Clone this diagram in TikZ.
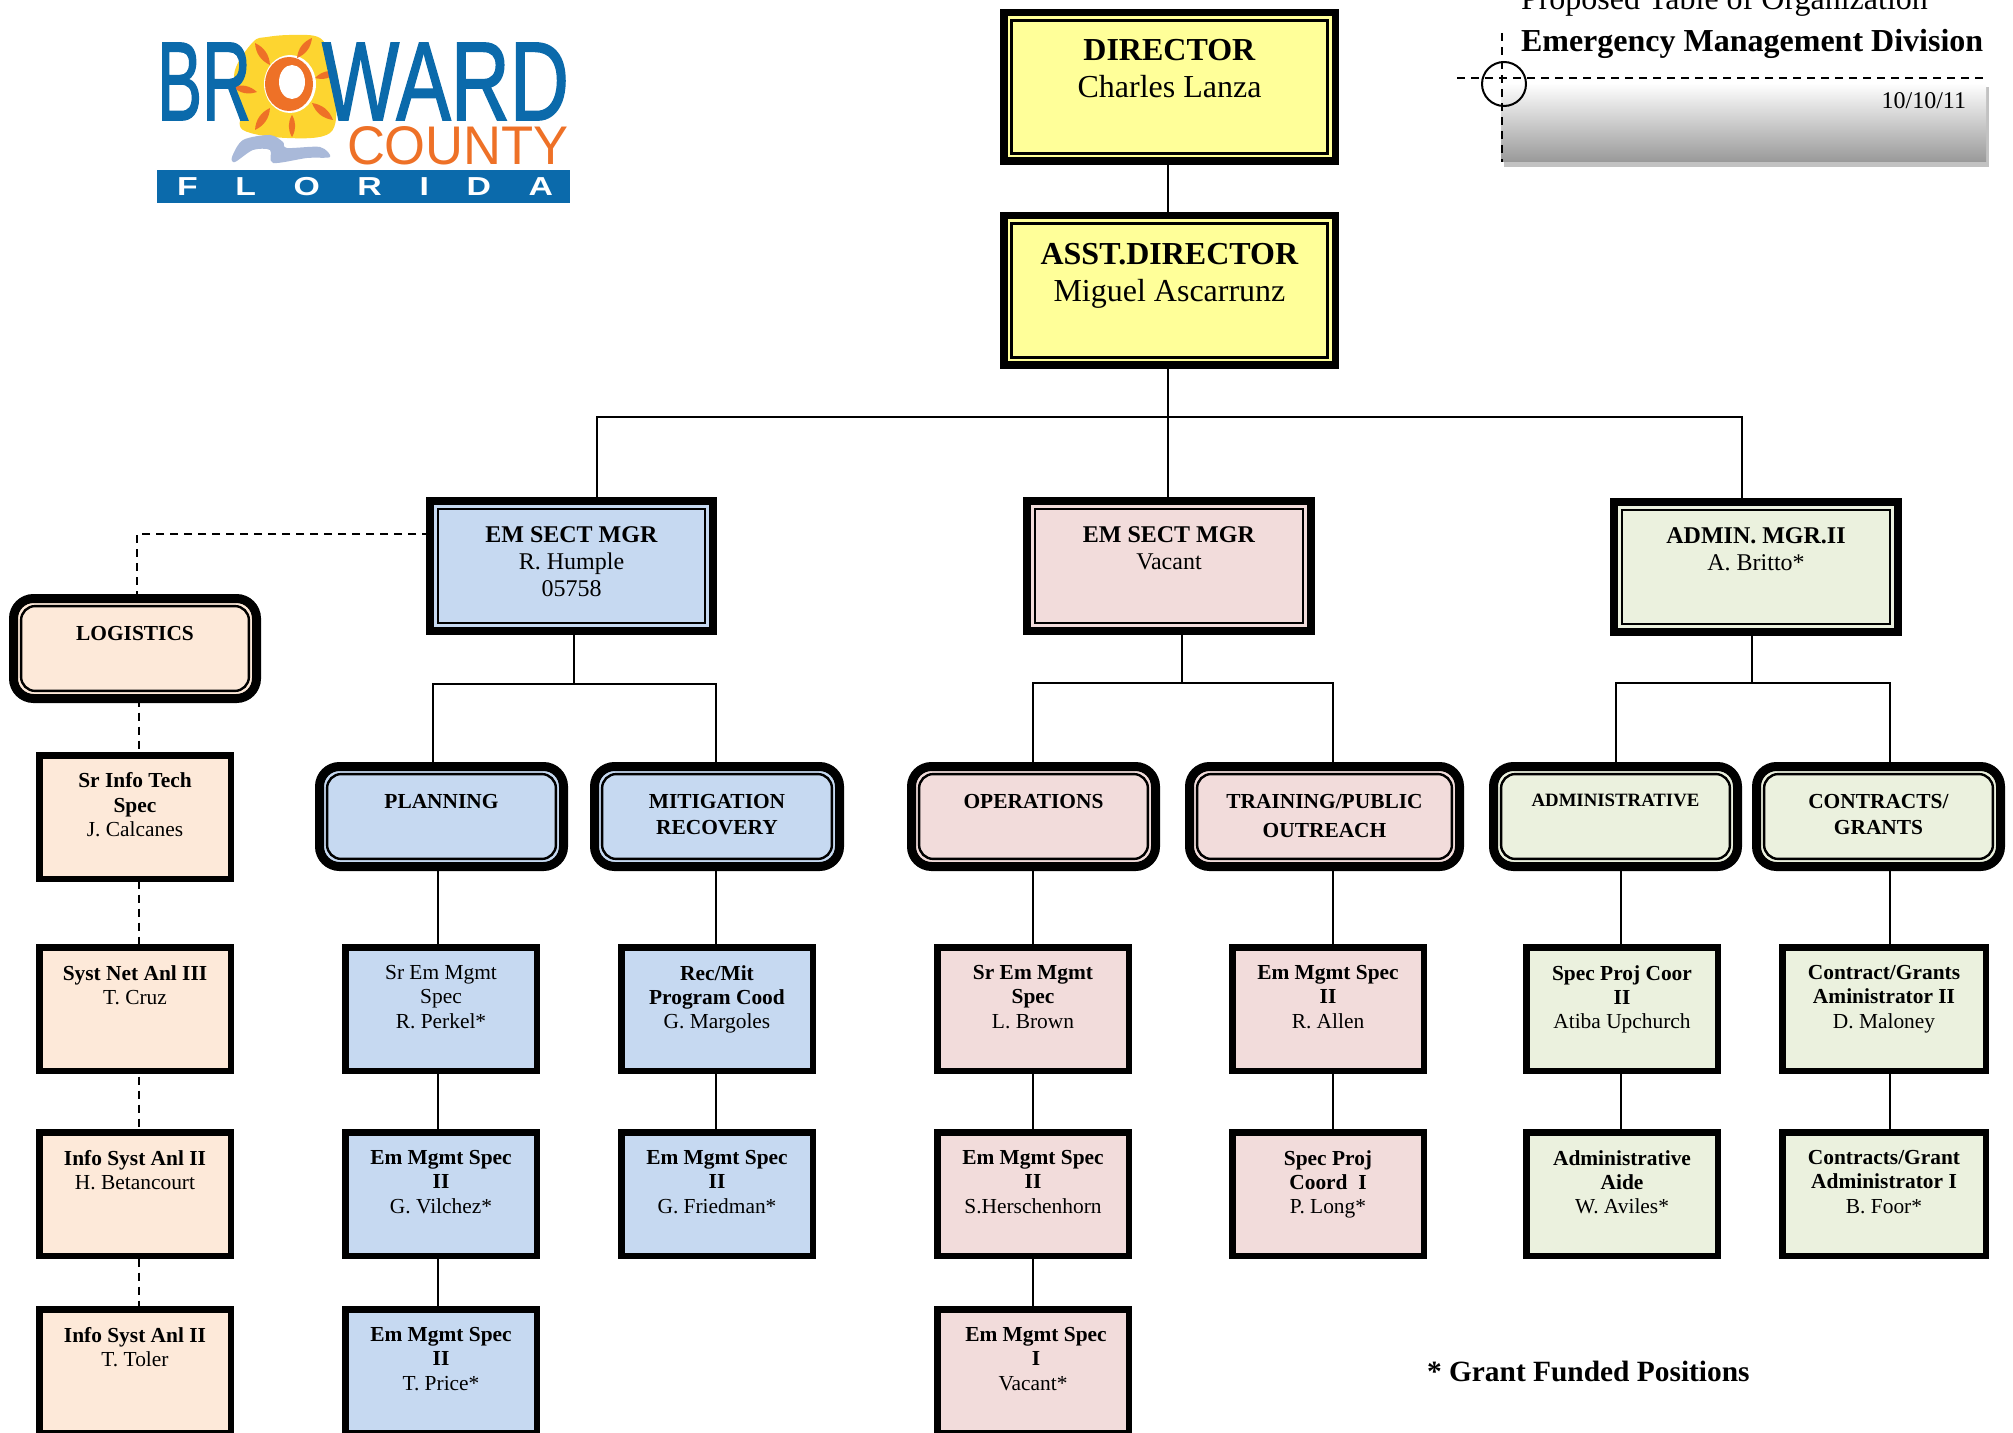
\documentclass[tikz,border=0pt]{standalone}
\usepackage{fontspec}
\setmainfont{Liberation Serif}
\newfontfamily\logofont{Liberation Sans}
\newfontfamily\logomid[FakeBold=1.6]{Liberation Sans}
\usetikzlibrary{backgrounds,calc,shadings}
\definecolor{cyel}{HTML}{FFFF99}
\definecolor{cblu}{HTML}{C6D9F1}
\definecolor{cpnk}{HTML}{F2DCDB}
\definecolor{cgrn}{HTML}{EBF1DE}
\definecolor{cpch}{HTML}{FDE9D9}
\definecolor{lgblue}{HTML}{0B6AAB}
\definecolor{lgorange}{HTML}{EE7127}
\definecolor{lgyellow}{HTML}{FDD530}
\definecolor{lgwave}{HTML}{A9B9D9}
\tikzset{
  x=0.5pt,y=-0.5pt,
  framed/.style={draw=black,inner sep=0pt,outer sep=0pt,rectangle},
  bigbox/.style={framed,line width=3.75pt},
  sectbox/.style={framed,line width=4pt},
  groupbox/.style={framed,line width=4.5pt,rounded corners=10pt},
  staffbox/.style={framed,line width=3.25pt},
  innerline/.style={draw=black,line width=1.2pt},
  link/.style={draw=black,line width=1pt},
  dashlink/.style={draw=black,line width=1pt,dash pattern=on 4pt off 3pt},
  freetext/.style={inner sep=0pt,outer sep=0pt},
}
\newcommand{\ftA}{\fontsize{16}{18.5}\selectfont}
\newcommand{\ftB}{\fontsize{12}{13.5}\selectfont}
\newcommand{\ftC}{\fontsize{10.7}{12.2}\selectfont}
\newcommand{\ftG}{\fontsize{10.7}{12.7}\selectfont}
\newcommand{\ftD}{\fontsize{9.4}{12.2}\selectfont}
% style, name, x0,y0,x1,y1 (outer, px), border px, top pad px, text
\newcommand{\orgnode}[9]{%
  \pgfmathsetmacro\nW{(#5-#3-#7)*0.5}%
  \pgfmathsetmacro\nH{(#6-#4-#7)*0.5}%
  \pgfmathsetmacro\nP{#8*0.5}%
  \node[#1,minimum width=\nW pt,minimum height=\nH pt] (#2) at ({(#3+#5)/2},{(#4+#6)/2})
    {\parbox[c][\nH pt][t]{\nW pt}{\vspace*{\nP pt}\centering #9\par}};%
}
\newcommand{\innerrect}[3]{%
  \draw[innerline,#3] ([xshift=#2,yshift=#2]#1.south west) rectangle ([xshift=-#2,yshift=-#2]#1.north east);%
}
\begin{document}
\begin{tikzpicture}
\useasboundingbox (0,0) rectangle (2013,1433);

% ---------- logo ----------
\fill[lgyellow] plot[smooth cycle,tension=0.6] coordinates {(253,42)(267,37)(293,35)(320,38)(333,60)(338,77)(337,100)(330,133)(287,138)(243,130)(242,110)(237,97)(235,70)};
\fill[lgwave] plot[smooth cycle,tension=0.5] coordinates {(232,157)(243,140)(270,135)(283,142)(287,148)(320,147)(330,157)(307,158)(273,163)(270,150)(253,150)(235,162)};
\fill[white] (290,84) ellipse (26 and 29);
\fill[lgorange] (289,84) ellipse (24 and 27);
\fill[white] (292,82) ellipse (13 and 17);
\foreach \ax/\ay/\bx/\by in {255/43/270/65, 312/38/297/58, 315/78/337/72, 233/87/257/92, 270/108/255/130, 292/115/292/137, 312/103/333/120}{
  \fill[lgorange] (\ax,\ay) to[bend left=30] (\bx,\by) to[bend left=30] (\ax,\ay) -- cycle;
}
\node[freetext,text=lgblue,anchor=south west] (logoBR) at (157,120) {\resizebox{47pt}{38.5pt}{\logomid BR}};
\node[freetext,text=lgblue,anchor=south west] (logoWARD) at (322,120) {\resizebox{123.5pt}{38.5pt}{\logomid WARD}};
\node[freetext,text=lgorange,anchor=south west] (logoCOUNTY) at (347,165) {\resizebox{111pt}{19pt}{\logofont COUNTY}};
\fill[lgblue] (157,170) rectangle (570,203);
\node[freetext,text=white,anchor=center] (logoFL) at (365,187) {\makebox[188pt][s]{\logofont\bfseries\fontsize{13}{13}\selectfont \scalebox{1.3}[1]{F}\hfill\scalebox{1.3}[1]{L}\hfill\scalebox{1.3}[1]{O}\hfill\scalebox{1.3}[1]{R}\hfill\scalebox{1.3}[1]{I}\hfill\scalebox{1.3}[1]{D}\hfill\scalebox{1.3}[1]{A}}};

% ---------- title block ----------
\fill[black!24] (1504,87) rectangle (1989,167);
\node[freetext,rectangle,minimum width=242.5pt,minimum height=39.5pt,top color=white,bottom color=black!40,anchor=north west] (datebar) at (1501,83) {};
\node[freetext,anchor=base east,font=\fontsize{12}{13}\selectfont] (datetxt) at (1966,109) {10/10/11};
\node[freetext,anchor=base west,font=\fontsize{16}{18}\selectfont] (title1) at (1521,10) {Proposed Table of Organization};
\node[freetext,anchor=base west,font=\bfseries\fontsize{16}{18}\selectfont] (title2) at (1521,52) {Emergency Management Division};
\coordinate (gH1) at (1457,78);
\coordinate (gH2) at (1984,78);
\coordinate (gV1) at (1502,33);
\coordinate (gV2) at (1502,162);
\draw[dashlink] (gH1) -- (gH2);
\draw[dashlink] (gV1) -- (gV2);
\node[draw=black,line width=1pt,circle,minimum size=22pt,inner sep=0pt] (crosshair) at (1504,84) {};

% ---------- top boxes ----------
\orgnode{bigbox,fill=cyel}{dir}{1000}{9}{1339}{165}{7.5}{27}{\ftA\textbf{DIRECTOR}\\Charles Lanza}
\innerrect{dir}{3.8pt}{}
\orgnode{bigbox,fill=cyel}{asst}{1000}{212}{1339}{369}{7.5}{28}{\ftA\textbf{ASST.DIRECTOR}\\Miguel Ascarrunz}
\innerrect{asst}{3.8pt}{}

% ---------- section managers ----------
\orgnode{sectbox,fill=cblu}{sectA}{426}{497}{717}{635}{8}{26}{\ftB\textbf{EM SECT MGR}\\R. Humple\\05758}
\innerrect{sectA}{4pt}{}
\orgnode{sectbox,fill=cpnk}{sectB}{1023}{497}{1315}{635}{8}{26}{\ftB\textbf{EM SECT MGR}\\Vacant}
\innerrect{sectB}{4pt}{}
\orgnode{sectbox,fill=cgrn}{sectC}{1610}{498}{1902}{636}{8}{26}{\ftB\textbf{ADMIN. MGR.II}\\A. Britto*}
\innerrect{sectC}{4pt}{}

% ---------- groups ----------
\orgnode{groupbox,fill=cpch}{logi}{9}{594}{261}{703}{9}{28}{\ftG\textbf{LOGISTICS}}
\innerrect{logi}{3.8pt}{rounded corners=7pt}
\orgnode{groupbox,fill=cblu}{plan}{315}{762}{568}{871}{9}{28}{\ftG\textbf{PLANNING}}
\innerrect{plan}{3.8pt}{rounded corners=7pt}
\orgnode{groupbox,fill=cblu}{miti}{590}{762}{844}{871}{9}{28}{\ftG\textbf{MITIGATION}\\\textbf{RECOVERY}}
\innerrect{miti}{3.8pt}{rounded corners=7pt}
\orgnode{groupbox,fill=cpnk}{oper}{907}{762}{1160}{871}{9}{28}{\ftG\textbf{OPERATIONS}}
\innerrect{oper}{3.8pt}{rounded corners=7pt}
\orgnode{groupbox,fill=cpnk}{trai}{1185}{762}{1464}{871}{9}{28}{\ftG\textbf{TRAINING/PUBLIC}\\\rule{0pt}{13.5pt}\textbf{OUTREACH}}
\innerrect{trai}{3.8pt}{rounded corners=7pt}
\orgnode{groupbox,fill=cgrn}{admi}{1489}{762}{1742}{871}{9}{28}{\ftD\textbf{ADMINISTRATIVE}}
\innerrect{admi}{3.8pt}{rounded corners=7pt}
\orgnode{groupbox,fill=cgrn}{cont}{1752}{762}{2005}{871}{9}{28}{\ftG\textbf{CONTRACTS/}\\\textbf{GRANTS}}
\innerrect{cont}{3.8pt}{rounded corners=7pt}

% ---------- staff: logistics ----------
\orgnode{staffbox,fill=cpch}{lA}{36}{752}{234}{882}{6.5}{17.5}{\ftC\textbf{Sr Info Tech}\\\textbf{Spec}\\J. Calcanes}
\orgnode{staffbox,fill=cpch}{lB}{36}{944}{234}{1074}{6.5}{18}{\ftC\textbf{Syst Net Anl III}\\T. Cruz}
\orgnode{staffbox,fill=cpch}{lC}{36}{1129}{234}{1259}{6.5}{18}{\ftC\textbf{Info Syst Anl II}\\H. Betancourt}
\orgnode{staffbox,fill=cpch}{lD}{36}{1306}{234}{1436}{6.5}{18}{\ftC\textbf{Info Syst Anl II}\\T. Toler}
% planning
\orgnode{staffbox,fill=cblu}{pA}{342}{944}{540}{1074}{6.5}{18}{\ftC Sr Em Mgmt\\Spec\\R. Perkel*}
\orgnode{staffbox,fill=cblu}{pB}{342}{1129}{540}{1259}{6.5}{18}{\ftC\textbf{Em Mgmt Spec}\\\textbf{II}\\G. Vilchez*}
\orgnode{staffbox,fill=cblu}{pC}{342}{1306}{540}{1436}{6.5}{18}{\ftC\textbf{Em Mgmt Spec}\\\textbf{II}\\T. Price*}
% mitigation
\orgnode{staffbox,fill=cblu}{mA}{618}{944}{816}{1074}{6.5}{18}{\ftC\textbf{Rec/Mit}\\\textbf{Program Cood}\\G. Margoles}
\orgnode{staffbox,fill=cblu}{mB}{618}{1129}{816}{1259}{6.5}{18}{\ftC\textbf{Em Mgmt Spec}\\\textbf{II}\\G. Friedman*}
% operations
\orgnode{staffbox,fill=cpnk}{oA}{934}{944}{1132}{1074}{6.5}{18}{\ftC\textbf{Sr Em Mgmt}\\\textbf{Spec}\\L. Brown}
\orgnode{staffbox,fill=cpnk}{oB}{934}{1129}{1132}{1259}{6.5}{18}{\ftC\textbf{Em Mgmt Spec}\\\textbf{II}\\S.Herschenhorn}
\orgnode{staffbox,fill=cpnk}{oC}{934}{1306}{1132}{1436}{6.5}{18}{\ftC\textbf{\hspace*{3pt}Em Mgmt Spec}\\\textbf{\hspace*{3pt}I}\\Vacant*}
% training
\orgnode{staffbox,fill=cpnk}{tA}{1229}{944}{1427}{1074}{6.5}{18}{\ftC\textbf{Em Mgmt Spec}\\\textbf{II}\\R. Allen}
\orgnode{staffbox,fill=cpnk}{tB}{1229}{1129}{1427}{1259}{6.5}{18}{\ftC\textbf{Spec Proj}\\\textbf{Coord\ \ I}\\P. Long*}
% administrative
\orgnode{staffbox,fill=cgrn}{aA}{1523}{944}{1721}{1074}{6.5}{18}{\ftC\textbf{Spec Proj Coor}\\\textbf{II}\\Atiba Upchurch}
\orgnode{staffbox,fill=cgrn}{aB}{1523}{1129}{1721}{1259}{6.5}{18}{\ftC\textbf{Administrative}\\\textbf{Aide}\\W. Aviles*}
% contracts
\orgnode{staffbox,fill=cgrn}{cA}{1779}{944}{1989}{1074}{6.5}{18}{\ftC\textbf{Contract/Grants}\\\textbf{Aministrator II}\\D. Maloney}
\orgnode{staffbox,fill=cgrn}{cB}{1779}{1129}{1989}{1259}{6.5}{18}{\ftC\textbf{Contracts/Grant}\\\textbf{Administrator I}\\B. Foor*}

\node[freetext,anchor=base west,font=\bfseries\fontsize{14.7}{16}\selectfont] (note) at (1427,1381) {* Grant Funded Positions};

% ---------- connectors ----------
\coordinate (busTop) at (1168,417);
\coordinate (dropA) at (597,417);
\coordinate (dropC) at (1742,417);
\coordinate (busA) at (574,684);
\coordinate (xPlanTop) at (433,684);
\coordinate (xMitiTop) at (716,684);
\coordinate (busB) at (1182,683);
\coordinate (xOperTop) at (1033,683);
\coordinate (xTraiTop) at (1333,683);
\coordinate (busC) at (1752,683);
\coordinate (xAdmiTop) at (1616,683);
\coordinate (xContTop) at (1890,683);
\coordinate (xPlanDn) at (438,900);
\coordinate (xMitiDn) at (716,900);
\coordinate (xOperDn) at (1033,900);
\coordinate (xTraiDn) at (1333,900);
\coordinate (xAdmiDn) at (1621,900);
\coordinate (xContDn) at (1890,900);
\coordinate (corner) at (137,534);
\coordinate (xLog) at (139,900);
\begin{scope}[on background layer]
  \draw[link] (dir.south -| busTop) -- (asst.north -| busTop);
  \draw[link] (asst.south -| busTop) -- (sectB.north -| busTop);
  \draw[link] (dropA |- sectA.north) -- (dropA) -- (dropC) -- (dropC |- sectC.north);
  \draw[link] (sectA.south -| busA) -- (busA);
  \draw[link] (plan.north -| xPlanTop) -- (xPlanTop) -- (xMitiTop) -- (miti.north -| xMitiTop);
  \draw[link] (sectB.south -| busB) -- (busB);
  \draw[link] (oper.north -| xOperTop) -- (xOperTop) -- (xTraiTop) -- (trai.north -| xTraiTop);
  \draw[link] (sectC.south -| busC) -- (busC);
  \draw[link] (admi.north -| xAdmiTop) -- (xAdmiTop) -- (xContTop) -- (cont.north -| xContTop);
  \draw[link] (plan.south -| xPlanDn) -- (pC.north -| xPlanDn);
  \draw[link] (miti.south -| xMitiDn) -- (mB.north -| xMitiDn);
  \draw[link] (oper.south -| xOperDn) -- (oC.north -| xOperDn);
  \draw[link] (trai.south -| xTraiDn) -- (tB.north -| xTraiDn);
  \draw[link] (admi.south -| xAdmiDn) -- (aB.north -| xAdmiDn);
  \draw[link] (cont.south -| xContDn) -- (cB.north -| xContDn);
  \draw[dashlink] (sectA.west |- corner) -- (corner) -- (logi.north -| corner);
  \draw[dashlink] (logi.south -| xLog) -- (lD.north -| xLog);
\end{scope}
\end{tikzpicture}
\end{document}
